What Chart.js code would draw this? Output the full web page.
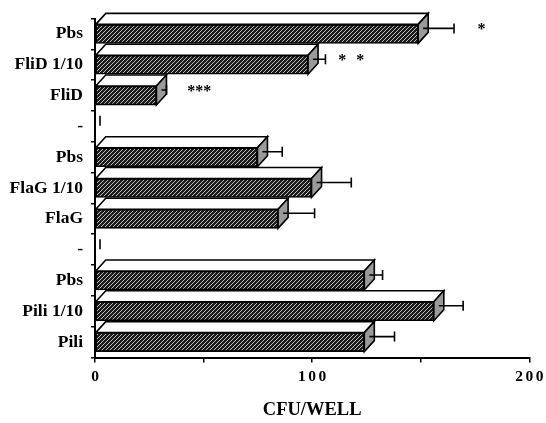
<!DOCTYPE html>
<html><head><meta charset="utf-8">
<script src="https://cdn.jsdelivr.net/npm/chart.js@4"></script>
<style>html,body{margin:0;padding:0;background:#fff}</style>
</head><body>
<canvas id="c" width="546" height="423"></canvas>
<script>
// ---- data ----
const categories = ['Pbs', 'FliD 1/10', 'FliD', '-', 'Pbs', 'FlaG 1/10', 'FlaG', '-', 'Pbs', 'Pili 1/10', 'Pili'];
const values     = [148.8, 98.1, 28.3, 0, 74.8, 99.7, 84.3, 0, 124.0, 156.0, 124.0];
const errors     = [14.2, 5.7, 2.3, 0, 9.1, 16.0, 14.5, 0, 6.1, 11.2, 11.6];
const stars      = ['*', '* *', '***', '', '', '', '', '', '', '', ''];
const starAt     = [178, 118, 48, null, null, null, null, null, null, null, null];
const xTickLabels = [0, 100, 200];
const axisTitle = 'CFU/WELL';

const SERIF = "'Liberation Serif', 'Times New Roman', serif";
const DX = 10, DY = 11;

const canvas = document.getElementById('c');
const ctx = canvas.getContext('2d');

function hatchPattern() {
  const s = 4;
  const c = document.createElement('canvas');
  c.width = s; c.height = s;
  const g = c.getContext('2d');
  g.fillStyle = '#1c1c1c';
  g.fillRect(0, 0, s, s);
  g.strokeStyle = '#d0d0d0';
  g.lineWidth = 0.9;
  g.beginPath();
  g.moveTo(0, s); g.lineTo(s, 0);
  g.moveTo(-1, 1); g.lineTo(1, -1);
  g.moveTo(s - 1, s + 1); g.lineTo(s + 1, s - 1);
  g.stroke();
  return ctx.createPattern(c, 'repeat');
}

const threeD = {
  id: 'threeD',
  beforeDraw(chart) {
    const xs = chart.scales.x;
    if (!xs._wrapped) {
      const orig = xs.drawLabels;
      xs.drawLabels = function (area) {
        const c = this.ctx;
        c.save();
        c.letterSpacing = '2.5px';
        c.translate(1.25, 0);
        orig.call(this, area);
        c.restore();
      };
      xs._wrapped = true;
    }
  },
  afterDatasetsDraw(chart) {
    const c = chart.ctx;
    const xs = chart.scales.x;
    const meta = chart.getDatasetMeta(0);
    meta.data.forEach((bar, i) => {
      const p = bar.getProps(['x', 'y', 'base', 'height'], true);
      const top = p.y - p.height / 2, bot = p.y + p.height / 2;
      c.save();
      c.strokeStyle = '#000';
      c.lineWidth = 1.6;
      c.lineJoin = 'miter';
      if (p.x - p.base > 0.5) {
        c.beginPath();
        c.moveTo(p.base, top);
        c.lineTo(p.base + DX, top - DY);
        c.lineTo(p.x + DX, top - DY);
        c.lineTo(p.x, top);
        c.closePath();
        c.fillStyle = '#fff';
        c.fill(); c.stroke();
        c.beginPath();
        c.moveTo(p.x, top);
        c.lineTo(p.x + DX, top - DY);
        c.lineTo(p.x + DX, bot - DY);
        c.lineTo(p.x, bot);
        c.closePath();
        c.fillStyle = '#9a9a9a';
        c.fill(); c.stroke();
      }
      // error bar from the middle of the side face
      const v = chart.data.datasets[0].data[i];
      const ey = p.y - DY / 2;
      const x0 = p.x + DX / 2;
      const x1 = xs.getPixelForValue(v + errors[i]) + DX / 2;
      c.lineWidth = 1.6;
      c.beginPath();
      c.moveTo(x0, ey); c.lineTo(x1, ey);
      c.moveTo(x1, ey - 5); c.lineTo(x1, ey + 5);
      c.stroke();
      // significance stars
      if (stars[i] && starAt[i] != null) {
        c.fillStyle = '#000';
        c.font = 'bold 16px ' + SERIF;
        c.textAlign = 'center';
        c.textBaseline = 'middle';
        c.wordSpacing = '6px';
        c.fillText(stars[i], xs.getPixelForValue(starAt[i]), p.y - 4);
      }
      c.restore();
    });
  }
};

new Chart(ctx, {
  type: 'bar',
  data: {
    labels: categories,
    datasets: [{
      data: values,
      backgroundColor: hatchPattern(),
      borderColor: '#000',
      borderWidth: 1.6,
      borderSkipped: false,
      barThickness: 19
    }]
  },
  options: {
    indexAxis: 'y',
    responsive: false,
    animation: false,
    devicePixelRatio: 1,
    layout: { padding: { top: 10, right: 14, bottom: 0, left: 0 } },
    plugins: { legend: { display: false }, tooltip: { enabled: false } },
    scales: {
      x: {
        min: 0, max: 200,
        afterFit(s) { s.height = 65.5; },
        ticks: {
          stepSize: 50,
          color: '#000',
          padding: 5,
          maxRotation: 0,
          autoSkip: false,
          font: { family: SERIF, size: 15.5, weight: 'bold' },
          callback: (v) => xTickLabels.includes(v) ? String(v) : ''
        },
        grid: { drawOnChartArea: false, drawTicks: true, tickLength: 5, color: '#000', lineWidth: 1.5 },
        border: { display: true, color: '#000', width: 2 },
        title: {
          display: true, text: axisTitle, color: '#000',
          font: { family: SERIF, size: 18.5, weight: 'bold' },
          padding: { top: 0, bottom: 2 }
        }
      },
      y: {
        afterFit(s) { s.width = 95; },
        ticks: {
          color: '#000',
          padding: 8,
          autoSkip: false,
          font: { family: SERIF, size: 17.5, weight: 'bold' }
        },
        grid: { offset: true, drawOnChartArea: false, drawTicks: true, tickLength: 4, color: '#000', lineWidth: 1.5 },
        border: { display: true, color: '#000', width: 2 }
      }
    }
  },
  plugins: [threeD]
});
</script>
</body></html>
